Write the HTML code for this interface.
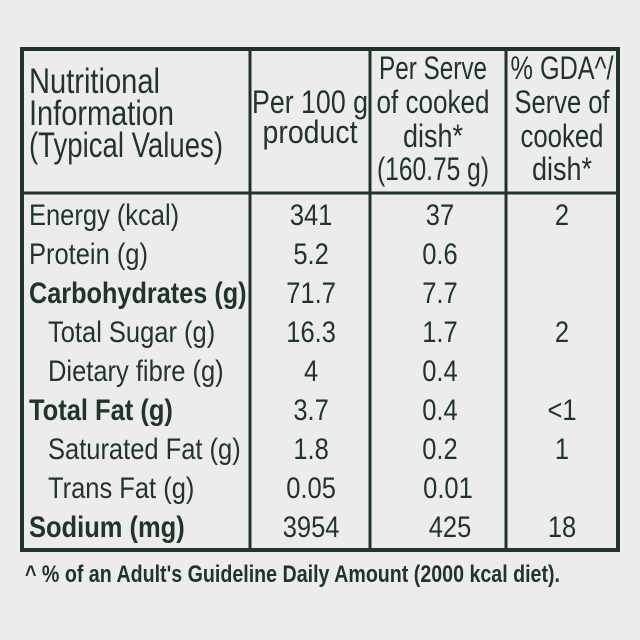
<!DOCTYPE html>
<html><head><meta charset="utf-8"><style>
html,body{margin:0;padding:0;background:#ececec;}
svg{display:block;}
text{font-family:"Liberation Sans Narrow","Liberation Sans",sans-serif;fill:#1e3528;}
</style></head><body>
<svg width="640" height="640" viewBox="0 0 640 640">
<rect width="640" height="640" fill="#ececec"/>
<g stroke="#1e3528" fill="none">
<rect x="22" y="49" width="596" height="501" stroke-width="4"/>
<line x1="22" y1="193" x2="618" y2="193" stroke-width="3"/>
<line x1="250" y1="49" x2="250" y2="550" stroke-width="3"/>
<line x1="370" y1="49" x2="370" y2="550" stroke-width="3"/>
<line x1="506" y1="49" x2="506" y2="550" stroke-width="3"/>
</g>
<g font-size="35">
<text x="29" y="93" textLength="131" lengthAdjust="spacingAndGlyphs">Nutritional</text>
<text x="29" y="125" textLength="145" lengthAdjust="spacingAndGlyphs">Information</text>
<text x="29" y="157" textLength="194" lengthAdjust="spacingAndGlyphs">(Typical Values)</text>
</g>
<g font-size="32" text-anchor="middle">
<text x="310" y="113" textLength="116" lengthAdjust="spacingAndGlyphs">Per 100 g</text>
<text x="310" y="143" textLength="95" lengthAdjust="spacingAndGlyphs">product</text>
<text x="433" y="79" textLength="108" lengthAdjust="spacingAndGlyphs">Per Serve</text>
<text x="433" y="113" textLength="113" lengthAdjust="spacingAndGlyphs">of cooked</text>
<text x="433" y="147" textLength="60" lengthAdjust="spacingAndGlyphs">dish*</text>
<text x="433" y="180" textLength="112" lengthAdjust="spacingAndGlyphs">(160.75 g)</text>
<text x="562" y="79" textLength="103" lengthAdjust="spacingAndGlyphs">% GDA^/</text>
<text x="562" y="113" textLength="95" lengthAdjust="spacingAndGlyphs">Serve of</text>
<text x="562" y="147" textLength="83" lengthAdjust="spacingAndGlyphs">cooked</text>
<text x="562" y="180" textLength="60" lengthAdjust="spacingAndGlyphs">dish*</text>
</g>
<g font-size="30" transform="scale(0.85,1)">
<text x="34.1" y="225">Energy (kcal)</text>
<text x="34.1" y="264">Protein (g)</text>
<text x="34.1" y="303" font-weight="bold" textLength="256" lengthAdjust="spacingAndGlyphs">Carbohydrates (g)</text>
<text x="56.5" y="342">Total Sugar (g)</text>
<text x="56.5" y="381">Dietary fibre (g)</text>
<text x="34.1" y="420" font-weight="bold">Total Fat (g)</text>
<text x="56.5" y="459">Saturated Fat (g)</text>
<text x="56.5" y="498">Trans Fat (g)</text>
<text x="34.1" y="537" font-weight="bold">Sodium (mg)</text>
</g>
<g font-size="30" text-anchor="middle" transform="scale(0.85,1)">
<text x="366" y="225">341</text><text x="517.6" y="225">37</text><text x="661.2" y="225">2</text>
<text x="366" y="264">5.2</text><text x="517.6" y="264">0.6</text>
<text x="366" y="303">71.7</text><text x="517.6" y="303">7.7</text>
<text x="366" y="342">16.3</text><text x="517.6" y="342">1.7</text><text x="661.2" y="342">2</text>
<text x="366" y="381">4</text><text x="517.6" y="381">0.4</text>
<text x="366" y="420">3.7</text><text x="517.6" y="420">0.4</text><text x="661.2" y="420">&lt;1</text>
<text x="366" y="459">1.8</text><text x="517.6" y="459">0.2</text><text x="661.2" y="459">1</text>
<text x="366" y="498">0.05</text><text x="527" y="498">0.01</text>
<text x="366" y="537">3954</text><text x="529.4" y="537">425</text><text x="661.2" y="537">18</text>
</g>
<text x="25" y="582" font-size="24" font-weight="bold" textLength="535" lengthAdjust="spacingAndGlyphs">^ % of an Adult's Guideline Daily Amount (2000 kcal diet).</text>
</svg>
</body></html>
